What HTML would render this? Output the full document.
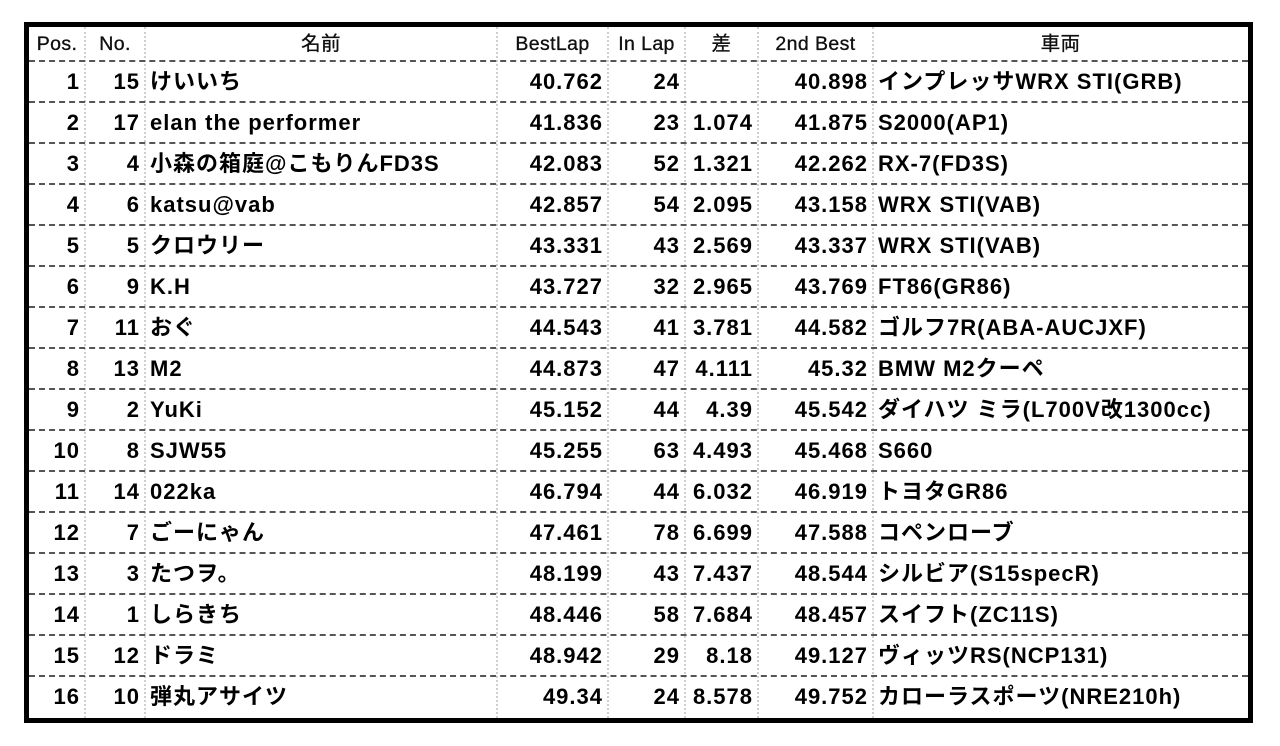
<!DOCTYPE html>
<html><head><meta charset="utf-8">
<style>
html,body{margin:0;padding:0;background:#fff;width:1280px;height:746px;overflow:hidden}
#box{position:absolute;left:24px;top:22px;width:1219px;height:691px;border:5px solid #000;background:#fff}
.hl{position:absolute;left:0;width:1219px;height:0;border-top:2px dashed #555}
.vl{position:absolute;top:0;width:0;height:691px;border-left:2px dotted #cfcfcf}
.c{position:absolute;white-space:nowrap;font-family:"Liberation Sans","Noto Sans CJK JP",sans-serif;color:#000;box-sizing:border-box}
.h{font-size:19.5px;text-align:center;line-height:34px;height:34px;letter-spacing:0.4px;color:#111;-webkit-text-stroke:0.3px #000}
.d{font-size:22px;font-weight:bold;line-height:41px;height:41px;letter-spacing:1px}
.r{text-align:right;padding-right:5px}
.l{text-align:left;padding-left:5px}
</style></head>
<body>
<div id="box"></div>
<script>
const headers=["Pos.","No.","名前","BestLap","In Lap","差","2nd Best","車両"];
const pos=["1","2","3","4","5","6","7","8","9","10","11","12","13","14","15","16"];
const nums=["15","17","4","6","5","9","11","13","2","8","14","7","3","1","12","10"];
const names=["けいいち","elan the performer","小森の箱庭@こもりんFD3S","katsu@vab","クロウリー","K.H","おぐ","M2","YuKi","SJW55","022ka","ごーにゃん","たつヲ。","しらきち","ドラミ","弾丸アサイツ"];
const best=["40.762","41.836","42.083","42.857","43.331","43.727","44.543","44.873","45.152","45.255","46.794","47.461","48.199","48.446","48.942","49.34"];
const inlap=["24","23","52","54","43","32","41","47","44","63","44","78","43","58","29","24"];
const diff=["","1.074","1.321","2.095","2.569","2.965","3.781","4.111","4.39","4.493","6.032","6.699","7.437","7.684","8.18","8.578"];
const second=["40.898","41.875","42.262","43.158","43.337","43.769","44.582","45.32","45.542","45.468","46.919","47.588","48.544","48.457","49.127","49.752"];
const cars=["インプレッサWRX STI(GRB)","S2000(AP1)","RX-7(FD3S)","WRX STI(VAB)","WRX STI(VAB)","FT86(GR86)","ゴルフ7R(ABA-AUCJXF)","BMW M2クーペ","ダイハツ ミラ(L700V改1300cc)","S660","トヨタGR86","コペンローブ","シルビア(S15specR)","スイフト(ZC11S)","ヴィッツRS(NCP131)","カローラスポーツ(NRE210h)"];
const colNames=["pos","no","name","best-lap","in-lap","gap","second-best","car"];
const edges=[0,56,116,468,579,656,729,844,1219];
const align=["r","r","l","r","r","r","r","l"];
const box=document.getElementById('box');
const HEAD=34,ROW=41;
for(let i=1;i<edges.length-1;i++){
  const v=document.createElement('div');
  
  
  v.className='vl';v.style.left=(edges[i]-1)+'px';box.appendChild(v);
}
for(let r=0;r<pos.length;r++){
  const h=document.createElement('div');
  
  
  h.className='hl';h.style.top=(HEAD+r*ROW-1)+'px';box.appendChild(h);
}
headers.forEach((t,i)=>{
  const c=document.createElement('div');
  
  
  c.className='c h';c.style.left=edges[i]+'px';c.style.top='0px';c.style.width=(edges[i+1]-edges[i])+'px';
  c.textContent=t;box.appendChild(c);
});
const cols=[pos,nums,names,best,inlap,diff,second,cars];
for(let r=0;r<pos.length;r++){
  cols.forEach((arr,i)=>{
    const c=document.createElement('div');
    
    
    c.className='c d '+align[i];c.style.left=edges[i]+'px';c.style.top=(HEAD+r*ROW)+'px';c.style.width=(edges[i+1]-edges[i])+'px';
    c.textContent=arr[r];box.appendChild(c);
  });
}
</script>
</body></html>
